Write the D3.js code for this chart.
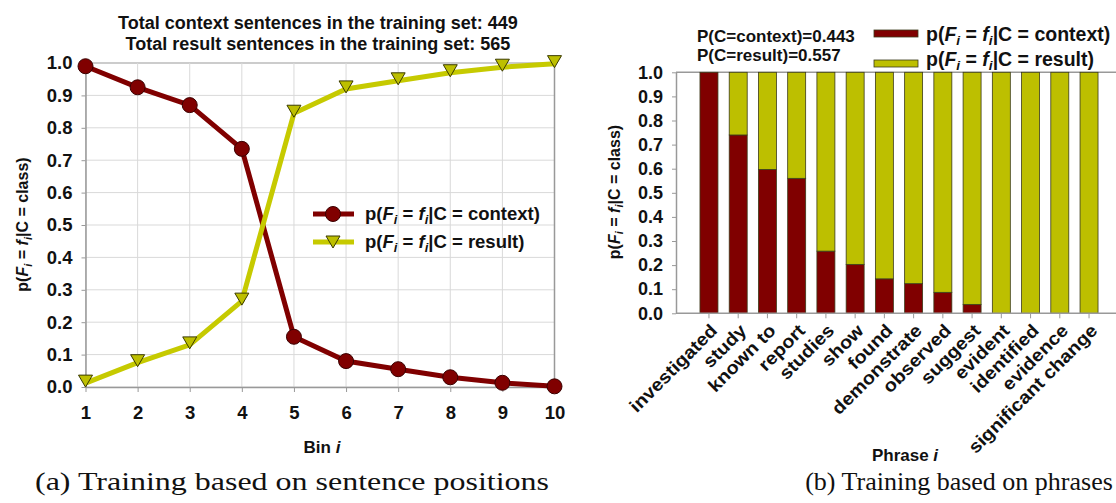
<!DOCTYPE html>
<html>
<head>
<meta charset="utf-8">
<script src="https://cdn.jsdelivr.net/npm/d3@7"></script>
<style>
  body { margin: 0; background: #fff; }
  text { font-family: "Liberation Sans", Arial, sans-serif; fill: #111; }
  .tick text { font-weight: bold; }
</style>
</head>
<body>
<svg id="chart" width="1116" height="503"></svg>
<script>
// Data
// ==============================
var bins = [1, 2, 3, 4, 5, 6, 7, 8, 9, 10];
var contextByBin = [0.99, 0.925, 0.87, 0.735, 0.155, 0.08, 0.055, 0.03, 0.013, 0.002];
var resultByBin = [0.012, 0.075, 0.13, 0.265, 0.845, 0.92, 0.945, 0.97, 0.987, 0.998];

var phrases = ["investigated", "study", "known to", "report", "studies", "show", "found",
  "demonstrate", "observed", "suggest", "evident", "identified", "evidence", "significant change"];
var contextByPhrase = [1.0, 0.74, 0.597, 0.56, 0.258, 0.203, 0.143, 0.123, 0.087, 0.037, 0, 0, 0, 0];
var resultByPhrase = [0, 0.26, 0.403, 0.44, 0.742, 0.797, 0.857, 0.877, 0.913, 0.963, 1, 1, 1, 1];

var yTicks = [0, 0.1, 0.2, 0.3, 0.4, 0.5, 0.6, 0.7, 0.8, 0.9, 1.0];

var darkRed = "#800000";
var olive = "#bdbf00";
var oliveLine = "#c6ca00";
var serif = "'Liberation Serif', 'Times New Roman', serif";

var svg = d3.select("#chart");

// helper: p(F_i = f_i|C = xxx) label built from tspans
function pLabel(t, size, tail) {
  t.append("tspan").text("p(");
  t.append("tspan").attr("font-style", "italic").attr("font-weight", "bold").text("F");
  t.append("tspan").attr("font-style", "italic").attr("font-weight", "bold")
    .attr("font-size", size * 0.7).attr("dy", size * 0.22).text("i");
  t.append("tspan").attr("dy", -size * 0.22).text(" = ");
  t.append("tspan").attr("font-style", "italic").attr("font-weight", "bold").text("f");
  t.append("tspan").attr("font-style", "italic").attr("font-weight", "bold")
    .attr("font-size", size * 0.7).attr("dy", size * 0.22).text("i");
  t.append("tspan").attr("dy", -size * 0.22).text("|C = " + tail + ")");
}

// ==============================
// (a) line chart
// ==============================
var xLine = d3.scaleLinear().domain([1, 10]).range([85.5, 554.5]);
var yLine = d3.scaleLinear().domain([0, 1]).range([387, 63]);

var left = svg.append("g");

// grid
left.append("g").selectAll("line")
  .data(yTicks)
  .enter()
  .append("line")
  .attr("x1", xLine(1)).attr("x2", xLine(10))
  .attr("y1", d => yLine(d)).attr("y2", d => yLine(d))
  .attr("stroke", d => d === 1 ? "#999" : "#d9d9d9")
  .attr("stroke-width", 1);

left.append("g").selectAll("line")
  .data(bins)
  .enter()
  .append("line")
  .attr("x1", d => xLine(d)).attr("x2", d => xLine(d))
  .attr("y1", yLine(0)).attr("y2", yLine(1))
  .attr("stroke", d => d === 10 ? "#999" : "#d9d9d9")
  .attr("stroke-width", d => d === 10 ? 1.5 : 1);

// axes
var bottomAxis = d3.axisBottom(xLine).tickValues(bins).tickSize(5).tickSizeOuter(0).tickPadding(14);
var leftAxis = d3.axisLeft(yLine).tickValues(yTicks).tickFormat(d3.format(".1f"))
  .tickSize(4).tickSizeOuter(0).tickPadding(9);

var gx = left.append("g").attr("transform", `translate(0, ${yLine(0)})`).call(bottomAxis);
var gy = left.append("g").attr("transform", `translate(${xLine(1)}, 0)`).call(leftAxis);
[gx, gy].forEach(function(g) {
  g.select(".domain").attr("stroke", "#999").attr("stroke-width", 1.5);
  g.selectAll(".tick line").attr("stroke", "#999");
  g.selectAll(".tick text").attr("font-size", 18.5);
});

// lines
var valLine = d3.line().x((d, i) => xLine(bins[i])).y(d => yLine(d));
left.append("path")
  .datum(contextByBin)
  .attr("d", valLine)
  .attr("fill", "none")
  .attr("stroke", darkRed)
  .attr("stroke-width", 5);

left.selectAll("circle")
  .data(contextByBin)
  .enter()
  .append("circle")
  .attr("cx", (d, i) => xLine(bins[i]))
  .attr("cy", d => yLine(d))
  .attr("r", 7.5)
  .attr("fill", darkRed)
  .attr("stroke", "#3a0000")
  .attr("stroke-width", 1);

left.append("path")
  .datum(resultByBin)
  .attr("d", valLine)
  .attr("fill", "none")
  .attr("stroke", oliveLine)
  .attr("stroke-width", 5);

var triPath = "M-7,-8L7,-8L0,4Z";
left.selectAll("path.tri")
  .data(resultByBin)
  .enter()
  .append("path")
  .attr("class", "tri")
  .attr("d", triPath)
  .attr("transform", (d, i) => `translate(${xLine(bins[i])}, ${yLine(d)})`)
  .attr("fill", olive)
  .attr("stroke", "#3a3a00")
  .attr("stroke-width", 1);

// title
left.append("text")
  .attr("x", 318).attr("y", 29)
  .attr("text-anchor", "middle")
  .attr("font-size", 18).attr("font-weight", "bold")
  .text("Total context sentences in the training set: 449");
left.append("text")
  .attr("x", 318).attr("y", 50)
  .attr("text-anchor", "middle")
  .attr("font-size", 18).attr("font-weight", "bold")
  .text("Total result sentences in the training set: 565");

// legend
var leg = left.append("g");
leg.append("line").attr("x1", 313).attr("x2", 354).attr("y1", 214).attr("y2", 214)
  .attr("stroke", darkRed).attr("stroke-width", 5);
leg.append("circle").attr("cx", 333).attr("cy", 214).attr("r", 7.5)
  .attr("fill", darkRed).attr("stroke", "#3a0000");
leg.append("line").attr("x1", 313).attr("x2", 354).attr("y1", 242).attr("y2", 242)
  .attr("stroke", oliveLine).attr("stroke-width", 5);
leg.append("path").attr("d", triPath).attr("transform", "translate(333, 244)")
  .attr("fill", olive).attr("stroke", "#3a3a00");
pLabel(leg.append("text").attr("x", 365).attr("y", 220)
  .attr("font-size", 18.5).attr("font-weight", "bold"), 18.5, "context");
pLabel(leg.append("text").attr("x", 365).attr("y", 248)
  .attr("font-size", 18.5).attr("font-weight", "bold"), 18.5, "result");

// axis labels
var ylabA = left.append("text")
  .attr("transform", "translate(28, 224.5) rotate(-90)")
  .attr("text-anchor", "middle")
  .attr("font-size", 16).attr("font-weight", "bold");
pLabel(ylabA, 16, "class");

var xlabA = left.append("text")
  .attr("x", 322).attr("y", 453)
  .attr("text-anchor", "middle")
  .attr("font-size", 17).attr("font-weight", "bold");
xlabA.append("tspan").text("Bin ");
xlabA.append("tspan").attr("font-style", "italic").text("i");

left.append("text")
  .attr("transform", "translate(292, 490) scale(1.23, 1)")
  .attr("text-anchor", "middle")
  .style("font-family", serif)
  .attr("font-size", 26)
  .text("(a) Training based on sentence positions");

// ==============================
// (b) stacked bars
// ==============================
var xBar = d3.scaleBand().domain(phrases).range([676, 1122]).paddingInner(0.385).paddingOuter(0.82);
var yBar = d3.scaleLinear().domain([0, 1]).range([313.3, 72.3]);

var right = svg.append("g");

// top frame line
right.append("line")
  .attr("x1", 676).attr("x2", 1116)
  .attr("y1", yBar(1)).attr("y2", yBar(1))
  .attr("stroke", "#999").attr("stroke-width", 1.5);

var stackData = phrases.map(function(p, i) {
  return { phrase: p, context: contextByPhrase[i], result: resultByPhrase[i] };
});
var series = d3.stack().keys(["context", "result"])(stackData);
var colors = { context: darkRed, result: olive };

right.append("g").selectAll("g")
  .data(series)
  .enter()
  .append("g")
  .attr("fill", d => colors[d.key])
  .selectAll("rect")
  .data(d => d.filter(s => s[1] - s[0] > 0))
  .enter()
  .append("rect")
  .attr("x", d => xBar(d.data.phrase))
  .attr("width", xBar.bandwidth())
  .attr("y", d => yBar(d[1]))
  .attr("height", d => yBar(d[0]) - yBar(d[1]))
  .attr("stroke", "#3b3b1a")
  .attr("stroke-width", 0.8);

var barBottom = d3.axisBottom(xBar).tickSize(5).tickSizeOuter(0);
var barLeft = d3.axisLeft(yBar).tickValues(yTicks).tickFormat(d3.format(".1f"))
  .tickSize(4).tickSizeOuter(0).tickPadding(9);

var bx = right.append("g").attr("transform", `translate(0, ${yBar(0)})`).call(barBottom);
bx.select(".domain").attr("d", "M676,0H1116");
bx.selectAll(".tick text")
  .attr("font-size", 18)
  .attr("text-anchor", "end")
  .attr("y", 0)
  .attr("dy", "0.35em")
  .attr("transform", "translate(5, 14) rotate(-45) scale(1.1, 1)");
var by = right.append("g").attr("transform", "translate(676, 0)").call(barLeft);
by.selectAll(".tick text").attr("font-size", 18);
[bx, by].forEach(function(g) {
  g.select(".domain").attr("stroke", "#999").attr("stroke-width", 1.5);
  g.selectAll(".tick line").attr("stroke", "#999");
});

// priors
right.append("text").attr("x", 697).attr("y", 42)
  .attr("font-size", 17).attr("font-weight", "bold")
  .text("P(C=context)=0.443");
right.append("text").attr("x", 697).attr("y", 61)
  .attr("font-size", 17).attr("font-weight", "bold")
  .text("P(C=result)=0.557");

// legend
right.append("rect").attr("x", 874).attr("y", 30).attr("width", 44).attr("height", 7)
  .attr("fill", darkRed).attr("stroke", "#3b3b1a").attr("stroke-width", 0.8);
right.append("rect").attr("x", 874).attr("y", 60).attr("width", 44).attr("height", 7)
  .attr("fill", olive).attr("stroke", "#3b3b1a").attr("stroke-width", 0.8);
pLabel(right.append("text").attr("x", 926).attr("y", 41)
  .attr("font-size", 19.5).attr("font-weight", "bold"), 19.5, "context");
pLabel(right.append("text").attr("x", 926).attr("y", 66)
  .attr("font-size", 19.5).attr("font-weight", "bold"), 19.5, "result");

var ylabB = right.append("text")
  .attr("transform", "translate(619.5, 192) rotate(-90)")
  .attr("text-anchor", "middle")
  .attr("font-size", 16).attr("font-weight", "bold");
pLabel(ylabB, 16, "class");

var xlabB = right.append("text")
  .attr("x", 905).attr("y", 461)
  .attr("text-anchor", "middle")
  .attr("font-size", 17).attr("font-weight", "bold");
xlabB.append("tspan").text("Phrase ");
xlabB.append("tspan").attr("font-style", "italic").text("i");

right.append("text")
  .attr("x", 959).attr("y", 490)
  .attr("text-anchor", "middle")
  .style("font-family", serif)
  .attr("font-size", 26)
  .text("(b) Training based on phrases");
</script>
</body>
</html>
